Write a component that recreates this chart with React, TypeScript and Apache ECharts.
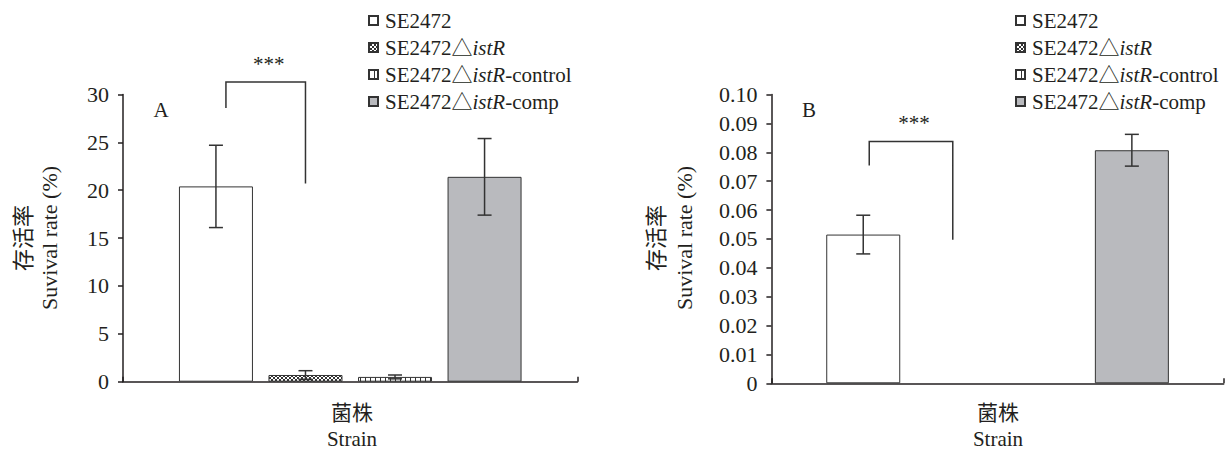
import React, { useEffect, useRef } from "react";
import * as echarts from "echarts";

// ---------- data ----------
const categories = ["Strain"];
const strainNames = ["SE2472", "SE2472△istR", "SE2472△istR-control", "SE2472△istR-comp"];
const legendRich: Record<string, string> = {
  "SE2472": "SE2472",
  "SE2472△istR": "SE2472△{i|istR}",
  "SE2472△istR-control": "SE2472△{i|istR}-control",
  "SE2472△istR-comp": "SE2472△{i|istR}-comp",
};
const survivalA = [20.4, 0.7, 0.5, 21.4];
const errorA = [4.3, 0.45, 0.2, 4.0];
const survivalB: (number | null)[] = [0.0515, null, null, 0.0807];
const errorB: (number | null)[] = [0.0067, null, null, 0.0055];
const yMinA = 0, yMaxA = 30, yStepA = 5;
const yMinB = 0, yMaxB = 0.1, yStepB = 0.01;
// significance bracket: [fromStrain, toStrain, top, leftLegBottom, rightLegBottom]
const bracketA = [0, 1, 31.3, 28.6, 20.7];
const bracketB = [0, 1, 0.0837, 0.0754, 0.0497];
const sigLabel = "***";
const panelLabels = ["A", "B"];
const yNameCn = "存活率";
const yNameEn = "Suvival rate (%)";
const xNameCn = "菌株";
const xNameEn = "Strain";

// ---------- styles ----------
const INK = "#231f20";
const SERIF = "'Liberation Serif', 'Times New Roman', 'Noto Sans CJK SC', serif";
const CJK = "'Noto Sans CJK SC', 'Liberation Serif', serif";
const BAR_W = 74;
const BAR_GAP = 0.21;
const STEP = BAR_W * (1 + BAR_GAP);
const CAP = 14;

function makePattern(kind: "cross" | "vline"): HTMLCanvasElement {
  const c = document.createElement("canvas");
  const s = kind === "cross" ? 4 : 5;
  c.width = s;
  c.height = s;
  const g = c.getContext("2d")!;
  g.fillStyle = "#ffffff";
  g.fillRect(0, 0, s, s);
  g.fillStyle = "#333333";
  if (kind === "cross") {
    for (let i = 0; i < 4; i++) {
      g.fillRect(i, i, 1, 1);
      g.fillRect(3 - i, i, 1, 1);
    }
  } else {
    g.fillRect(0, 0, 1, s);
  }
  return c;
}

export default function App() {
  const ref = useRef<HTMLDivElement>(null);
  useEffect(() => {
    if (!ref.current) return;
    const chart = echarts.init(ref.current, undefined, { renderer: "svg" });
    const cross = makePattern("cross");
    const vline = makePattern("vline");
    const fills: any[] = [
      "#ffffff",
      { image: cross, repeat: "repeat" },
      { image: vline, repeat: "repeat" },
      "#b9babe",
    ];

    const grids = [
      { left: 123, top: 94.5, width: 454.5, height: 287.2 },
      { left: 771.4, top: 94.5, width: 452.3, height: 288.8 },
    ];
    const values = [survivalA, survivalB];
    const errors = [errorA, errorB];
    const brackets = [bracketA, bracketB];
    const insets = [10, 6];

    const series: any[] = [];
    [0, 1].forEach((g) => {
      strainNames.forEach((name, k) => {
        const v = values[g][k];
        series.push({
          type: "bar",
          name,
          xAxisIndex: g,
          yAxisIndex: g,
          z: 2,
          barWidth: BAR_W,
          barGap: `${BAR_GAP * 100}%`,
          data: [v === null ? "-" : v],
          itemStyle: { color: fills[k], borderColor: "#333333", borderWidth: 1 },
          emphasis: { disabled: true },
        });
      });
      const errData: any[] = [];
      values[g].forEach((v, k) => {
        const e = errors[g][k];
        if (v !== null && e !== null) errData.push([0, k, v, e]);
      });
      series.push({
        type: "custom",
        xAxisIndex: g,
        yAxisIndex: g,
        z: 5,
        clip: false,
        silent: true,
        encode: { x: 0, y: 2 },
        data: errData,
        renderItem: (params: any, api: any) => {
          const k = api.value(1);
          const v = api.value(2);
          const e = api.value(3);
          const base = api.coord([0, v]);
          const x = base[0] + (k - 1.5) * STEP;
          const yT = api.coord([0, v + e])[1];
          const yB = api.coord([0, v - e])[1];
          const st = { stroke: "#333333", lineWidth: 1.5 };
          return {
            type: "group",
            children: [
              { type: "line", shape: { x1: x, y1: yT, x2: x, y2: yB }, style: st },
              { type: "line", shape: { x1: x - CAP / 2, y1: yT, x2: x + CAP / 2, y2: yT }, style: st },
              { type: "line", shape: { x1: x - CAP / 2, y1: yB, x2: x + CAP / 2, y2: yB }, style: st },
            ],
          };
        },
      });
      const inset = insets[g];
      series.push({
        type: "custom",
        xAxisIndex: g,
        yAxisIndex: g,
        z: 5,
        clip: false,
        silent: true,
        encode: { x: 0, y: 2 },
        data: [[0, ...brackets[g]]],
        renderItem: (params: any, api: any) => {
          const a = api.value(1);
          const b = api.value(2);
          const top = api.coord([0, api.value(3)]);
          const yTop = top[1];
          const yLB = api.coord([0, api.value(4)])[1];
          const yRB = api.coord([0, api.value(5)])[1];
          const xL = top[0] + (a - 1.5) * STEP + inset;
          const xR = top[0] + (b - 1.5) * STEP;
          return {
            type: "group",
            children: [
              {
                type: "polyline",
                shape: { points: [[xL, yLB], [xL, yTop], [xR, yTop], [xR, yRB]] },
                style: { stroke: "#333333", lineWidth: 1.5, fill: "none" },
              },
              {
                type: "text",
                x: (xL + xR) / 2 + 3,
                y: yTop - 8,
                style: {
                  text: sigLabel,
                  fill: INK,
                  font: `21px ${SERIF}`,
                  align: "center",
                  verticalAlign: "bottom",
                },
              },
            ],
          };
        },
      });
    });

    const axisLine = { show: true, lineStyle: { color: INK, width: 1.5 } };
    const xAxis = [0, 1].map((g) => ({
      type: "category",
      gridIndex: g,
      data: categories,
      axisLine,
      axisTick: { show: true, inside: true, length: 5, lineStyle: { color: INK, width: 1.5 } },
      axisLabel: { show: false },
      splitLine: { show: false },
    }));
    const yAxis = [
      { min: yMinA, max: yMaxA, interval: yStepA, fmt: (v: number) => String(v) },
      { min: yMinB, max: yMaxB, interval: yStepB, fmt: (v: number) => (v === 0 ? "0" : v.toFixed(2)) },
    ].map((y, g) => ({
      type: "value",
      gridIndex: g,
      min: y.min,
      max: y.max,
      interval: y.interval,
      axisLine,
      axisTick: { show: true, inside: false, length: 5, lineStyle: { color: INK, width: 1.5 } },
      axisLabel: {
        formatter: y.fmt,
        color: INK,
        fontFamily: SERIF,
        fontSize: 22,
        margin: 14,
      },
      splitLine: { show: false },
    }));

    const legend = [363, 1010].map((left) => ({
      orient: "vertical",
      left,
      top: 5,
      icon: "rect",
      itemWidth: 9,
      itemHeight: 9,
      itemGap: 6,
      selectedMode: false,
      data: strainNames,
      formatter: (n: string) => legendRich[n] || n,
      textStyle: {
        color: INK,
        fontFamily: SERIF,
        fontSize: 21,
        lineHeight: 21,
        padding: [0, 0, 0, 2],
        rich: {
          i: { fontStyle: "italic", fontFamily: SERIF, fontSize: 21, color: INK, lineHeight: 21 },
        },
      },
    }));

    const txt = (text: string, x: number, y: number, font: string, rotation = 0) => ({
      type: "text",
      x,
      y,
      rotation,
      silent: true,
      style: { text, fill: INK, font, align: "center", verticalAlign: "middle" },
    });
    const graphic: any[] = [
      txt(panelLabels[0], 161, 110, `21px ${SERIF}`),
      txt(panelLabels[1], 809, 110, `21px ${SERIF}`),
      txt(yNameCn, 21, 238, `22px ${CJK}`, Math.PI / 2),
      txt(yNameEn, 49.5, 238, `22px ${SERIF}`, Math.PI / 2),
      txt(yNameCn, 654, 238, `22px ${CJK}`, Math.PI / 2),
      txt(yNameEn, 684, 238, `22px ${SERIF}`, Math.PI / 2),
      txt(xNameCn, 352, 411, `21px ${CJK}`),
      txt(xNameEn, 352, 439, `21px ${SERIF}`),
      txt(xNameCn, 998, 411, `21px ${CJK}`),
      txt(xNameEn, 998, 439, `21px ${SERIF}`),
    ];

    chart.setOption({
      animation: false,
      backgroundColor: "#ffffff",
      textStyle: { fontFamily: SERIF },
      grid: grids,
      xAxis,
      yAxis,
      legend,
      series,
      graphic,
    });
    return () => chart.dispose();
  }, []);
  return (
    <div
      ref={ref}
      style={{ position: "fixed", left: 0, top: 0, width: 1225, height: 450, background: "#fff" }}
    />
  );
}
